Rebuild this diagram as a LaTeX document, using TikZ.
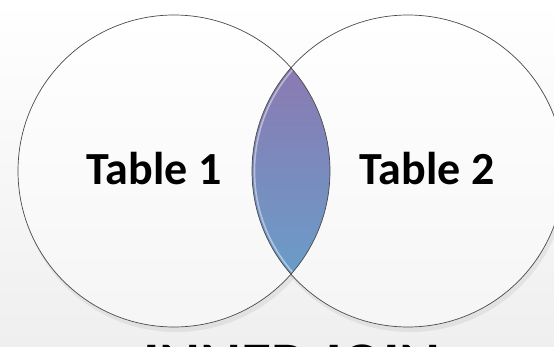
\documentclass[tikz,border=0pt]{standalone}
\usepackage{fontspec}
\setmainfont{Carlito}
\usepackage{tikz}
\usetikzlibrary{calc}
\usepackage{xcolor}
\definecolor{lensTop}{HTML}{8A7AB2}
\definecolor{lensBot}{HTML}{6A9CC9}
\definecolor{rimGray}{HTML}{4A4A4A}
\definecolor{bgBot}{HTML}{EFEFEF}

\begin{document}
\begin{tikzpicture}[x=1pt,y=-1pt,line cap=round,
  rim/.style={draw=rimGray,line width=0.7pt},
  tablelabel/.style={font=\fontsize{46}{46}\selectfont\bfseries,anchor=base,inner sep=0pt}]
\path[use as bounding box,clip] (0,0) rectangle (554,347);
\shade[top color=white,bottom color=bgBot] (0,0) rectangle (554,347);
\coordinate (c1) at (174,171);
\coordinate (c2) at (408,171);
% soft shadows
\fill[black,opacity=0.06] ($(c1)+(2,4)$) circle (157);
\fill[black,opacity=0.06] ($(c2)+(2,4)$) circle (157);
\shade[top color=white,bottom color=bgBot!60] (c1) circle (156);
\shade[top color=white,bottom color=bgBot!60] (c2) circle (156);
% overlap
\begin{scope}
\clip (c1) circle (156);
\clip (c2) circle (156);
\shade[top color=lensTop,bottom color=lensBot] (240,68) rectangle (340,274);
\draw[white,opacity=0.45,line width=1.6pt] (c2) circle (153.5);
\end{scope}
\draw[rim] (c1) circle (156);
\draw[rim] (c2) circle (156);
\node[tablelabel] (t1) at (154,185) {Table 1};
\node[tablelabel] (t2) at (427,185) {Table 2};
\node[font=\fontsize{62}{62}\selectfont\bfseries,anchor=base,inner sep=0pt] (join) at (292,385) {INNER JOIN};
\end{tikzpicture}
\end{document}
